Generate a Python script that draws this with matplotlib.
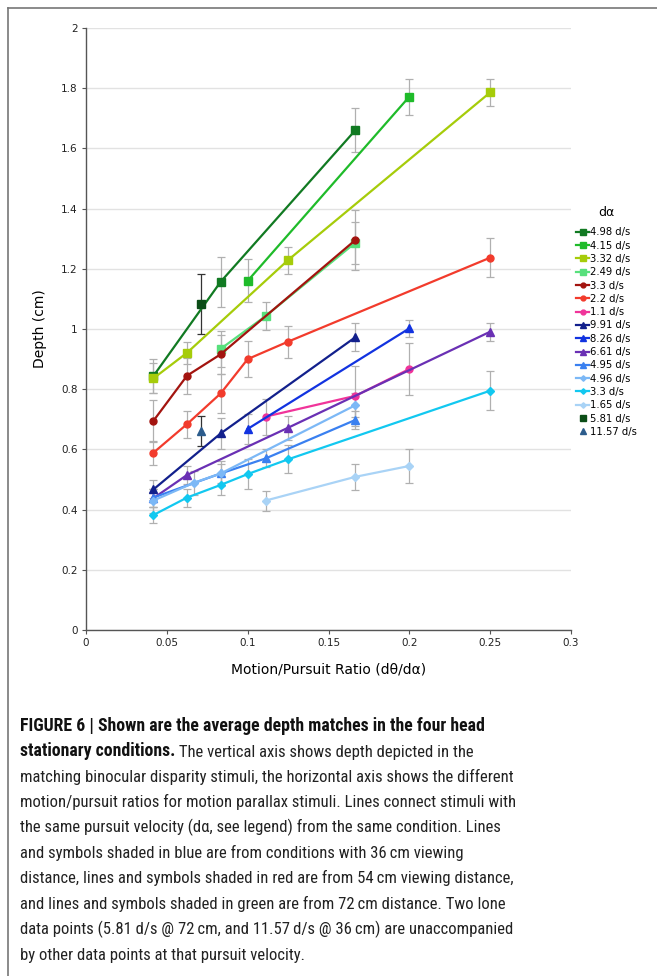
import matplotlib
matplotlib.use("Agg")
import matplotlib.pyplot as plt
from matplotlib.lines import Line2D

# pursuit velocities (legend labels)
labels = ["4.98 d/s", "4.15 d/s", "3.32 d/s", "2.49 d/s", "3.3 d/s", "2.2 d/s", "1.1 d/s",
          "9.91 d/s", "8.26 d/s", "6.61 d/s", "4.95 d/s", "4.96 d/s", "3.3 d/s", "1.65 d/s",
          "5.81 d/s", "11.57 d/s"]

# motion/pursuit ratio per series
ratio = [
    [0.0417, 0.0833, 0.1667],
    [0.1, 0.2],
    [0.0417, 0.0625, 0.125, 0.25],
    [0.0833, 0.1111, 0.1667],
    [0.0417, 0.0625, 0.0833, 0.1667],
    [0.0417, 0.0625, 0.0833, 0.1, 0.125, 0.25],
    [0.1111, 0.1667, 0.2],
    [0.0417, 0.0833, 0.1667],
    [0.1, 0.2],
    [0.0417, 0.0625, 0.125, 0.25],
    [0.0417, 0.0833, 0.1111, 0.1667],
    [0.0417, 0.0667, 0.0833, 0.1667],
    [0.0417, 0.0625, 0.0833, 0.1, 0.125, 0.25],
    [0.1111, 0.1667, 0.2],
    [0.0714],
    [0.0714],
]

# matched depth (cm)
depth = [
    [0.844, 1.157, 1.661],
    [1.16, 1.772],
    [0.836, 0.921, 1.229, 1.786],
    [0.934, 1.043, 1.287],
    [0.695, 0.845, 0.916, 1.296],
    [0.589, 0.684, 0.786, 0.90, 0.958, 1.237],
    [0.709, 0.778, 0.867],
    [0.467, 0.653, 0.973],
    [0.668, 1.002],
    [0.438, 0.515, 0.672, 0.991],
    [0.44, 0.52, 0.57, 0.698],
    [0.43, 0.489, 0.52, 0.747],
    [0.382, 0.44, 0.482, 0.518, 0.567, 0.795],
    [0.43, 0.509, 0.545],
    [1.083],
    [0.662],
]

# error bar half-widths
depth_err = [
    [0.055, 0.083, 0.074],
    [0.071, 0.06],
    [0.05, 0.037, 0.045, 0.044],
    [0.06, 0.046, 0.07],
    [0.07, 0.06, 0.065, 0.10],
    [0.04, 0.045, 0.065, 0.06, 0.053, 0.064],
    [0.06, 0.10, 0.085],
    [0.03, 0.05, 0.047],
    [0.05, 0.029],
    [0.03, 0.03, 0.04, 0.03],
    [0.03, 0.03, 0.03, 0.03],
    [0.04, 0.04, 0.04, 0.04],
    [0.027, 0.03, 0.035, 0.049, 0.046, 0.065],
    [0.033, 0.044, 0.056],
    [0.10],
    [0.05],
]

colors = ["#117a22", "#1fbb2a", "#a6cc0a", "#58e07c", "#a3140f", "#f23b2c", "#f0349a",
          "#12208c", "#1233e0", "#6a30b4", "#3a80f0", "#7cb8f6", "#12c8f0", "#a9d3f6",
          "#0b4d17", "#2c5c8c"]
markers = ["s", "s", "s", "s", "o", "o", "o", "^", "^", "^", "^", "D", "D", "D", "s", "^"]

fig = plt.figure(figsize=(6.57, 9.76), dpi=100)
ax = fig.add_axes([0.1309, 0.3545, 0.7382, 0.6168])

for i, lab in enumerate(labels):
    lone = len(ratio[i]) == 1
    ax.errorbar(ratio[i], depth[i], yerr=depth_err[i], fmt="none",
                ecolor="#333333" if lone else "#b0b0b0", elinewidth=0.9,
                capsize=2.6, capthick=0.9, zorder=2)
    ms = 5.4 if markers[i] in ("s", "^") else (4 if markers[i] == "D" else 5)
    ax.plot(ratio[i], depth[i], color=colors[i], marker=markers[i], markersize=ms,
            linewidth=1.6, linestyle="none" if lone else "-", label=lab, zorder=3)

ax.set_xlim(0, 0.3)
ax.set_ylim(0, 2)
ax.set_xticks([0, 0.05, 0.1, 0.15, 0.2, 0.25, 0.3])
ax.set_xticklabels(["0", "0.05", "0.1", "0.15", "0.2", "0.25", "0.3"])
ax.set_yticks([0, 0.2, 0.4, 0.6, 0.8, 1, 1.2, 1.4, 1.6, 1.8, 2])
ax.set_yticklabels(["0", "0.2", "0.4", "0.6", "0.8", "1", "1.2", "1.4", "1.6", "1.8", "2"])
ax.yaxis.grid(True, color="#e2e2e2", linewidth=1)
ax.set_axisbelow(True)
for s in ("top", "right"):
    ax.spines[s].set_visible(False)
for s in ("left", "bottom"):
    ax.spines[s].set_color("#555555")
    ax.spines[s].set_linewidth(1)
ax.tick_params(direction="out", length=3, width=0.8, color="#555555",
               labelsize=7.5, pad=3, labelcolor="#222222")

ax.set_xlabel("Motion/Pursuit Ratio (dθ/dα)", fontsize=10, labelpad=10)
ax.set_ylabel("Depth (cm)", fontsize=10, labelpad=10)

leg = fig.legend(loc="upper left", bbox_to_anchor=(0.871, 0.793), frameon=False,
                 title="dα", fontsize=7.2, title_fontsize=9, handlelength=1.3,
                 handletextpad=0.1, labelspacing=0.33, borderaxespad=0,
                 markerscale=0.7)
leg._legend_box.sep = 6

# frame lines around the figure panel
fig.add_artist(Line2D([8 / 657, 8 / 657], [0, 1 - 8 / 976], transform=fig.transFigure,
                      color="#777777", linewidth=1.2))
fig.add_artist(Line2D([8 / 657, 1], [1 - 8 / 976, 1 - 8 / 976], transform=fig.transFigure,
                      color="#777777", linewidth=1.2))

# caption
cap_font = ["Roboto Condensed", "Liberation Sans Narrow", "Lato", "DejaVu Sans"]
cap_size = 12
bold_size = 12.8
cap_lines = [
    ("FIGURE 6 | Shown are the average depth matches in the four head", ""),
    ("stationary conditions.", " The vertical axis shows depth depicted in the"),
    ("", "matching binocular disparity stimuli, the horizontal axis shows the different"),
    ("", "motion/pursuit ratios for motion parallax stimuli. Lines connect stimuli with"),
    ("", "the same pursuit velocity (dα, see legend) from the same condition. Lines"),
    ("", "and symbols shaded in blue are from conditions with 36\u2009cm viewing"),
    ("", "distance, lines and symbols shaded in red are from 54\u2009cm viewing distance,"),
    ("", "and lines and symbols shaded in green are from 72\u2009cm distance. Two lone"),
    ("", "data points (5.81 d/s @ 72\u2009cm, and 11.57\u2009d/s @ 36\u2009cm) are unaccompanied"),
    ("", "by other data points at that pursuit velocity."),
]
x0 = 20 / 657
y_base = 731
for k, (bold, normal) in enumerate(cap_lines):
    y = 1 - (y_base + k * 25.4) / 976
    if bold:
        t = fig.text(x0, y, bold, fontsize=bold_size, fontweight="bold", family=cap_font,
                     va="baseline", ha="left", color="#111111")
        if normal:
            ax.annotate(normal, xy=(1, 0), xycoords=t, fontsize=cap_size,
                        family=cap_font, color="#222222", va="bottom", ha="left",
                        annotation_clip=False)
    else:
        fig.text(x0, y, normal, fontsize=cap_size, family=cap_font, color="#222222",
                 va="baseline", ha="left")

fig.savefig("out.png", dpi=100)
